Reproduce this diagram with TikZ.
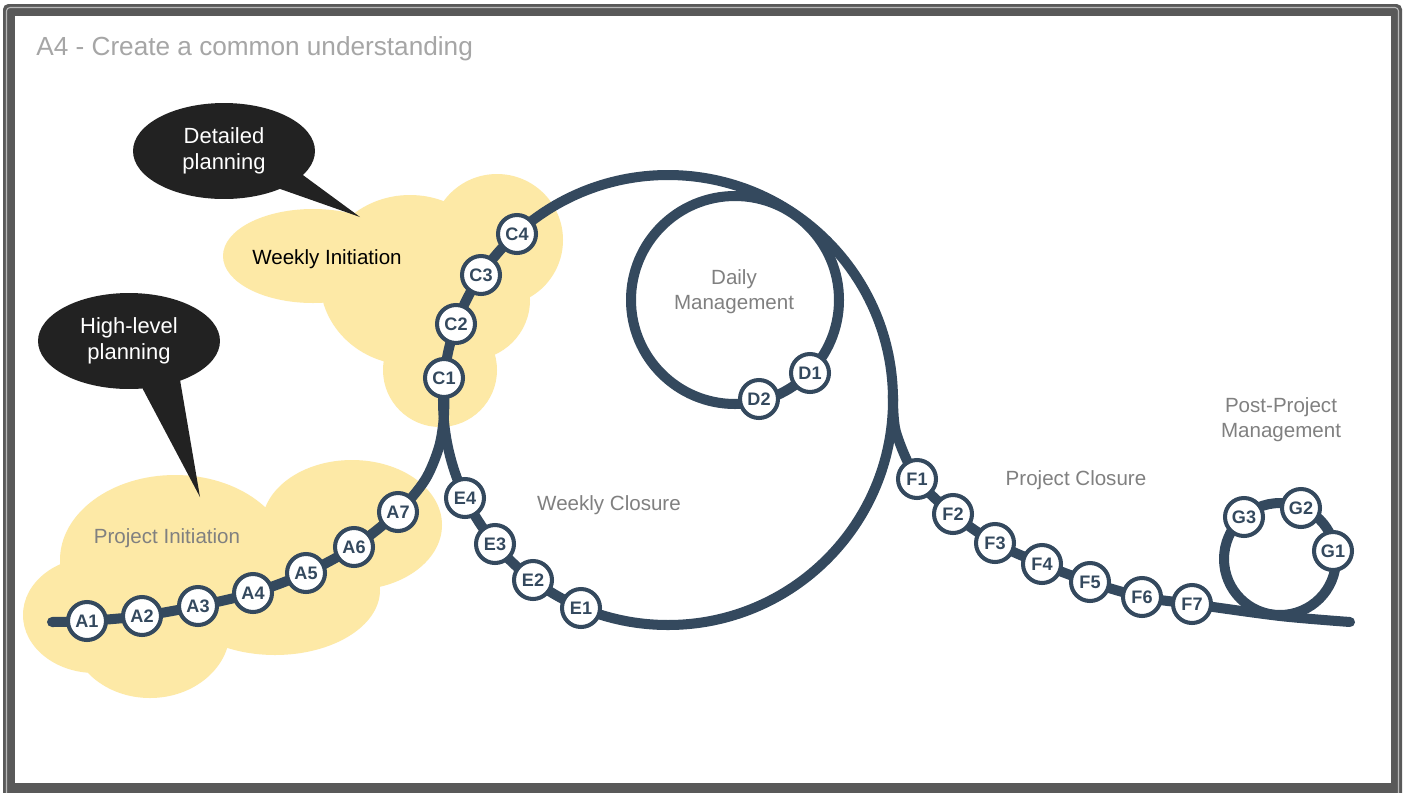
\documentclass[tikz,border=0pt]{standalone}
\usepackage{fontspec}
\setmainfont{Liberation Sans}
\usepackage{xcolor}
\definecolor{track}{HTML}{34495E}
\definecolor{cloud}{HTML}{FDE9A6}
\definecolor{bubble}{HTML}{222222}
\definecolor{note}{HTML}{808080}
\definecolor{titlegray}{HTML}{A6A6A6}
\definecolor{framegray}{HTML}{595959}
\usepackage{tikz}
\usetikzlibrary{shapes.geometric}
\pgfdeclarelayer{back}
\pgfdeclarelayer{rail}
\pgfsetlayers{back,rail,main}

\begin{document}
\begin{tikzpicture}[x=0.02cm, y=-0.02cm,
  stop/.style={circle, draw=track, line width=2.3pt, fill=white, minimum size=0.76cm,
    inner sep=0pt, text=track, font=\fontsize{10.3}{11}\selectfont\bfseries},
  lbl/.style={text=note, align=center, font=\fontsize{11.7}{14.4}\selectfont},
  bubblebox/.style={ellipse, fill=bubble, text=white, inner sep=0pt, align=center,
    minimum width=3.64cm, minimum height=1.92cm, font=\fontsize{12.5}{14.6}\selectfont},
  railline/.style={draw=track, line width=5.7pt, line cap=round, line join=round}]
  \useasboundingbox (0,0) rectangle (1407,792);
  % khung
  \begin{pgfonlayer}{back}
    \fill[white] (0,0) rectangle (1407,792);
    \fill[framegray, rounded corners=3pt] (3,4) rectangle (1402,800);
    \draw[gray!55, line width=0.6pt, rounded corners=2pt] (6.5,7.5) rectangle (1398.5,800);
    \fill[white] (15,16) rectangle (1391,783);
    % đám mây
    \fill[cloud] (175,560) ellipse [x radius=115, y radius=85]
      (95,615) ellipse [x radius=72, y radius=58]
      (150,630) ellipse [x radius=80, y radius=68]
      (352,525) ellipse [x radius=90, y radius=65]
      (275,590) ellipse [x radius=105, y radius=65];
    \fill[cloud] (313,256) ellipse [x radius=90, y radius=47]
      (410,280) ellipse [x radius=90, y radius=85]
      (497,240) ellipse [x radius=66, y radius=66]
      (470,300) ellipse [x radius=60, y radius=60]
      (440,370) ellipse [x radius=57, y radius=57];
  \end{pgfonlayer}
  \node[anchor=base west, inner sep=0pt, text=titlegray, font=\fontsize{14.9}{16}\selectfont]
    (title) at (36,55) {A4 - Create a common understanding};
  % nhãn
  \node[lbl, anchor=base] (pinit) at (167,543) {Project Initiation};
  \node[lbl, anchor=base, text=black] (winit) at (327,264) {Weekly Initiation};
  \node[lbl, anchor=base] (wclose) at (609,510) {Weekly Closure};
  \node[lbl] (daily) at (734,292) {Daily\\Management};
  \node[lbl, anchor=base] (pclose) at (1076,485) {Project Closure};
  \node[lbl] (post) at (1281,420) {Post-Project\\Management};
  % bong bóng
  \node[bubblebox] (detail) at (224,151) {Detailed\\planning};
  \node[bubblebox] (high) at (129,341) {High-level\\planning};
  \coordinate (detailtip) at (360,217);
  \coordinate (hightip) at (200,497);
  \begin{pgfonlayer}{back}
    \fill[bubble] (detail.center) -- (detail.-17) -- (detailtip) -- (detail.-34) -- cycle;
    \fill[bubble] (high.center) -- (high.-38) -- (hightip) -- (high.-74) -- cycle;
  \end{pgfonlayer}
  % các điểm
  \foreach \n/\x/\y in {A1/87/621, A2/142/616, A3/198/606, A4/253/593, A5/306/573,
                        A6/354/547, A7/398/512, C1/444/378, C2/456/324, C3/481/275,
                        C4/517/234, D1/810/373, D2/759/399, E1/581/608, E2/533/580,
                        E3/495/544, E4/465/498, F1/917/479, F2/953/514, F3/995/543,
                        F4/1042/564, F5/1090/582, F6/1142/597, F7/1192/604,
                        G1/1333/551, G2/1301/508, G3/1244/517}{
    \node[stop] (\n) at (\x,\y) {\n};
  }
  % đường ray
  \coordinate (weekc) at (668,400);
  \coordinate (dayc) at (735,300);
  \coordinate (postc) at (1280,559);
  \begin{pgfonlayer}{rail}
    \draw[railline] plot[smooth] coordinates {(52,622) (A1.center) (A2.center) (A3.center)
      (A4.center) (A5.center) (A6.center) (A7.center) (425,480) (439,447) (444,415) (C1.center)};
    \draw[railline] (weekc) circle [radius=225];
    \draw[railline] (dayc) circle [radius=104];
    \draw[railline] plot[smooth] coordinates {(893,395) (896,432) (F1.center) (F2.center)
      (F3.center) (F4.center) (F5.center) (F6.center) (F7.center) (1280,616) (1350,622)};
    \draw[railline] (postc) circle [radius=56];
  \end{pgfonlayer}
\end{tikzpicture}
\end{document}
